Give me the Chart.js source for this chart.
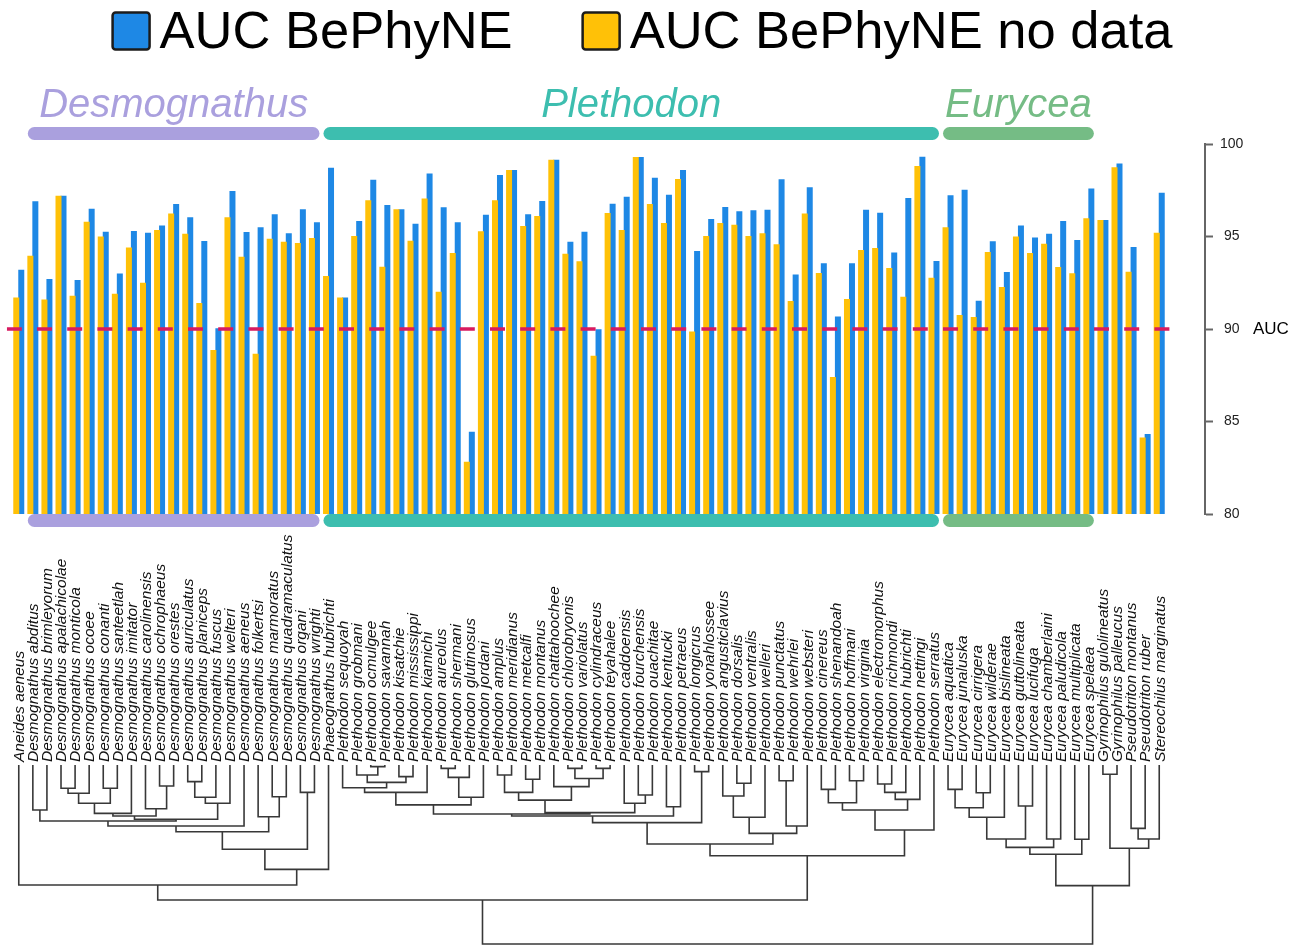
<!DOCTYPE html>
<html>
<head>
<meta charset="utf-8">
<title>AUC BePhyNE by species</title>
<script src="https://cdn.jsdelivr.net/npm/chart.js@4.4.1/dist/chart.umd.min.js"></script>
<style>
  html, body { margin: 0; padding: 0; background: #fff; }
  #wrap { position: relative; width: 1309px; height: 947px; overflow: hidden; }
  #wrap canvas { position: absolute; left: 0; top: 0; }
</style>
</head>
<body>
<div id="wrap">
  <canvas id="auc" width="1309" height="947"></canvas>
  <canvas id="tree" width="1309" height="947"></canvas>
</div>
<script>
// ---- data -------------------------------------------------------------
const species = [
  'Aneides aeneus', 'Desmognathus abditus', 'Desmognathus brimleyorum', 'Desmognathus apalachicolae',
  'Desmognathus monticola', 'Desmognathus ocoee', 'Desmognathus conanti', 'Desmognathus santeetlah',
  'Desmognathus imitator', 'Desmognathus carolinensis', 'Desmognathus ochrophaeus', 'Desmognathus orestes',
  'Desmognathus auriculatus', 'Desmognathus planiceps', 'Desmognathus fuscus', 'Desmognathus welteri',
  'Desmognathus aeneus', 'Desmognathus folkertsi', 'Desmognathus marmoratus', 'Desmognathus quadramaculatus',
  'Desmognathus organi', 'Desmognathus wrighti', 'Phaeognathus hubrichti', 'Plethodon sequoyah',
  'Plethodon grobmani', 'Plethodon ocmulgee', 'Plethodon savannah', 'Plethodon kisatchie',
  'Plethodon mississippi', 'Plethodon kiamichi', 'Plethodon aureolus', 'Plethodon shermani',
  'Plethodon glutinosus', 'Plethodon jordani', 'Plethodon amplus', 'Plethodon meridianus',
  'Plethodon metcalfi', 'Plethodon montanus', 'Plethodon chattahoochee', 'Plethodon chlorobryonis',
  'Plethodon variolatus', 'Plethodon cylindraceus', 'Plethodon teyahalee', 'Plethodon caddoensis',
  'Plethodon fourchensis', 'Plethodon ouachitae', 'Plethodon kentucki', 'Plethodon petraeus',
  'Plethodon longicrus', 'Plethodon yonahlossee', 'Plethodon angusticlavius', 'Plethodon dorsalis',
  'Plethodon ventralis', 'Plethodon welleri', 'Plethodon punctatus', 'Plethodon wehrlei',
  'Plethodon websteri', 'Plethodon cinereus', 'Plethodon shenandoah', 'Plethodon hoffmani',
  'Plethodon virginia', 'Plethodon electromorphus', 'Plethodon richmondi', 'Plethodon hubrichti',
  'Plethodon nettingi', 'Plethodon serratus', 'Eurycea aquatica', 'Eurycea junaluska',
  'Eurycea cirrigera', 'Eurycea wilderae', 'Eurycea bislineata', 'Eurycea guttolineata',
  'Eurycea lucifuga', 'Eurycea chamberlaini', 'Eurycea paludicola', 'Eurycea multiplicata',
  'Eurycea spelaea', 'Gyrinophilus gulolineatus', 'Gyrinophilus palleucus', 'Pseudotriton montanus',
  'Pseudotriton ruber', 'Stereochilus marginatus'
];

// AUC of the full BePhyNE model (blue)
const aucBePhyNE = [
  93.20, 96.90, 92.70, 97.20, 92.65, 96.50, 95.26, 93.00, 95.30, 95.20,
  95.60, 96.76, 96.04, 94.76, 90.04, 97.46, 95.25, 95.50, 96.20, 95.17,
  96.47, 95.77, 98.72, 91.70, 95.84, 98.07, 96.70, 96.47, 95.69, 98.40,
  96.58, 95.77, 84.45, 96.18, 98.32, 98.59, 96.20, 96.92, 99.15, 94.72,
  95.26, 89.98, 96.77, 97.15, 99.30, 98.18, 97.26, 98.59, 94.22, 95.95,
  96.59, 96.36, 96.42, 96.44, 98.09, 92.95, 97.66, 93.55, 90.67, 93.56,
  96.44, 96.29, 94.13, 97.08, 99.31, 93.68, 97.23, 97.53, 91.53, 94.74,
  93.08, 95.59, 94.94, 95.15, 95.84, 94.81, 97.60, 95.89, 98.94, 94.43,
  84.32, 97.37
];

// AUC of BePhyNE fitted without the species' own occurrence data (orange)
const aucNoData = [
  91.70, 93.96, 91.60, 97.20, 91.80, 95.80, 95.00, 91.90, 94.40, 92.50,
  95.35, 96.25, 95.15, 91.40, 88.86, 96.04, 93.90, 88.66, 94.88, 94.72,
  94.65, 94.92, 92.86, 91.70, 95.03, 96.96, 93.37, 96.47, 94.77, 97.06,
  92.02, 94.11, 82.83, 95.28, 96.96, 98.59, 95.57, 96.11, 99.15, 94.07,
  93.66, 88.56, 96.27, 95.35, 99.30, 96.76, 95.73, 98.11, 89.87, 95.03,
  95.73, 95.64, 95.03, 95.17, 94.58, 91.51, 96.24, 93.03, 87.41, 91.62,
  94.27, 94.38, 93.30, 91.75, 98.81, 92.77, 95.50, 90.76, 90.65, 94.16,
  92.27, 95.00, 94.11, 94.61, 93.35, 93.01, 95.98, 95.89, 98.74, 93.10,
  84.14, 95.20
];

const yTickValues = [80, 85, 90, 95, 100];
const referenceAUC = 90;

// genus brackets: first and last species index covered
const cladeNames = ['Desmognathus', 'Plethodon', 'Eurycea'];
const cladeFirst = [1, 22, 66];
const cladeLast = [21, 65, 76];

// phylogeny: [node id, left child, right child, relative age]; numbers are species indices
const treeNodes = [
  ['d1', 1, 2, 25.1], ['d2', 3, 4, 13.0], ['d3', 'd2', 5, 15.8], ['d4', 6, 7, 13.0],
  ['d5', 'd3', 'd4', 21.4], ['d6', 'd5', 8, 27.0], ['d7', 10, 11, 11.7], ['d8', 9, 'd7', 24.4],
  ['d9', 'd6', 'd8', 28.5], ['d10', 12, 13, 9.3], ['d11', 'd10', 14, 18.0], ['d12', 'd11', 15, 21.4],
  ['d13', 'd9', 'd12', 30.3], ['d14', 'd1', 'd13', 31.3], ['d15', 'd14', 16, 34.1], ['d16', 18, 19, 17.7],
  ['d17', 17, 'd16', 28.9], ['d18', 'd15', 'd17', 37.3], ['d19', 20, 21, 15.3], ['d20', 'd18', 'd19', 47.1],
  ['d21', 'd20', 22, 58.3], ['d22', 0, 'd21', 67.0],
  ['p1', 25, 26, 0.9], ['p2', 24, 'p1', 5.6], ['p3', 27, 28, 6.5], ['p4', 'p2', 'p3', 9.7],
  ['p5', 23, 'p4', 12.7], ['p6', 'p5', 29, 15.3], ['p7', 30, 31, 1.9], ['p8', 'p7', 32, 6.9],
  ['p9', 'p8', 33, 18.0], ['p10', 'p6', 'p9', 22.3], ['p11', 34, 35, 5.6], ['p12', 36, 37, 8.0],
  ['p13', 'p11', 'p12', 15.3], ['p14', 39, 40, 1.9], ['p15', 41, 42, 1.9], ['p16', 'p14', 'p15', 7.5],
  ['p17', 38, 'p16', 12.1], ['p18', 'p13', 'p17', 19.6], ['p19', 44, 45, 16.8], ['p20', 43, 'p19', 21.4],
  ['p21', 'p18', 'p20', 26.6], ['p22', 'p10', 'p21', 27.4], ['p23', 46, 47, 23.3], ['p24', 'p22', 'p23', 28.5],
  ['p25', 48, 49, 3.7], ['p26', 'p24', 'p25', 32.2], ['p27', 51, 52, 10.2], ['p28', 50, 'p27', 17.3],
  ['p29', 'p28', 53, 29.2], ['p30', 54, 55, 8.8], ['p31', 'p30', 56, 34.1], ['p32', 'p29', 'p31', 38.2],
  ['p33', 'p26', 'p32', 44.1], ['p34', 57, 58, 13.6], ['p35', 59, 60, 8.8], ['p36', 'p34', 'p35', 21.1],
  ['p37', 61, 62, 10.6], ['p38', 'p37', 63, 15.3], ['p39', 'p38', 64, 19.2], ['p40', 'p36', 'p39', 25.1],
  ['p41', 'p40', 65, 36.3], ['p42', 'p33', 'p41', 50.7], ['a1', 'd22', 'p42', 75.4],
  ['e1', 66, 67, 13.6], ['e2', 68, 69, 15.5], ['e3', 'e1', 'e2', 23.9], ['e4', 'e3', 70, 29.2],
  ['e5', 71, 72, 22.9], ['e6', 'e4', 'e5', 41.3], ['e7', 73, 74, 41.3], ['e8', 'e6', 'e7', 46.0],
  ['e9', 75, 76, 41.5], ['e10', 'e8', 'e9', 49.9], ['g1', 77, 78, 5.2], ['g2', 79, 80, 35.4],
  ['g3', 'g2', 81, 41.3], ['g4', 'g1', 'g3', 46.5], ['s1', 'e10', 'g4', 67.4], ['root', 'a1', 's1', 100]
];

// ---- styling ----------------------------------------------------------
const BLUE = '#1E88E5';
const ORANGE = '#FFC107';
const THRESHOLD = '#D81B60';
const cladeColors = ['#AAA0DE', '#3DBEAF', '#75BC85'];
const SANS = '"Liberation Sans", Arial, Helvetica, sans-serif';

// shared horizontal frame so bars, labels and tree tips line up
const X_MIN = -0.85;
const X_MAX = 84.25;
const PAD_LEFT = 6.8;
const AXIS_WIDTH = 104;

// ---- plugins ----------------------------------------------------------
const topLegend = {
  id: 'topLegend',
  afterDraw(chart) {
    const ctx = chart.ctx;
    const items = [chart.data.datasets[1], chart.data.datasets[0]];
    const box = 37, gap = 10, between = 70;
    ctx.save();
    ctx.font = '52.5px ' + SANS;
    const widths = items.map(d => ctx.measureText(d.label).width);
    const total = widths.reduce((s, w) => s + box + gap + w, 0) + between * (items.length - 1);
    let x = 642.5 - total / 2;
    items.forEach((d, i) => {
      ctx.fillStyle = d.backgroundColor;
      ctx.strokeStyle = '#1b1b1b';
      ctx.lineWidth = 2.5;
      ctx.beginPath();
      ctx.roundRect(x, 12.5, box, 37, 3);
      ctx.fill();
      ctx.stroke();
      x += box + gap;
      ctx.fillStyle = '#000';
      ctx.textAlign = 'left';
      ctx.textBaseline = 'alphabetic';
      ctx.fillText(d.label, x, 48);
      x += widths[i] + between;
    });
    ctx.restore();
  }
};

const cladeBrackets = {
  id: 'cladeBrackets',
  afterDraw(chart) {
    const { ctx, chartArea, scales: { x } } = chart;
    ctx.save();
    cladeNames.forEach((name, k) => {
      const x0 = x.getPixelForValue(cladeFirst[k] - 0.5) + 2;
      const x1 = x.getPixelForValue(cladeLast[k] + 0.5) - 2;
      ctx.strokeStyle = cladeColors[k];
      ctx.lineWidth = 13;
      ctx.lineCap = 'round';
      [chartArea.top - 10.5, chartArea.bottom + 6.5].forEach(y => {
        ctx.beginPath();
        ctx.moveTo(x0 + 6.5, y);
        ctx.lineTo(x1 - 6.5, y);
        ctx.stroke();
      });
      ctx.fillStyle = cladeColors[k];
      ctx.font = 'italic 40px ' + SANS;
      ctx.textAlign = 'center';
      ctx.textBaseline = 'alphabetic';
      ctx.fillText(name, (x0 + x1) / 2, chartArea.top - 27);
    });
    ctx.restore();
  }
};

const axisName = {
  id: 'axisName',
  afterDraw(chart) {
    const { ctx, scales: { y } } = chart;
    ctx.save();
    ctx.font = '17px ' + SANS;
    ctx.fillStyle = '#000';
    ctx.textAlign = 'left';
    ctx.textBaseline = 'middle';
    ctx.fillText('AUC', 1253, y.getPixelForValue(referenceAUC));
    ctx.restore();
  }
};

const tipLabels = {
  id: 'tipLabels',
  afterDraw(chart) {
    const { ctx, chartArea, scales: { x } } = chart;
    ctx.save();
    ctx.font = 'italic 15.5px ' + SANS;
    ctx.fillStyle = '#111';
    ctx.textAlign = 'left';
    ctx.textBaseline = 'middle';
    species.forEach((name, i) => {
      ctx.save();
      ctx.translate(x.getPixelForValue(i) + 1, chartArea.top - 3);
      ctx.rotate(-Math.PI / 2);
      ctx.fillText(name, 0, 0);
      ctx.restore();
    });
    ctx.restore();
  }
};

// ---- AUC bar chart ----------------------------------------------------
const toPoints = arr => arr.map((v, i) => ({ x: i, y: v }));

new Chart(document.getElementById('auc'), {
  type: 'bar',
  data: {
    datasets: [
      {
        label: 'AUC BePhyNE no data',
        data: toPoints(aucNoData),
        backgroundColor: ORANGE,
        categoryPercentage: 0.71,
        barPercentage: 1.2
      },
      {
        label: 'AUC BePhyNE',
        data: toPoints(aucBePhyNE),
        backgroundColor: BLUE,
        categoryPercentage: 0.71,
        barPercentage: 1.2
      },
      {
        type: 'line',
        label: 'AUC = 90',
        data: [{ x: X_MIN, y: referenceAUC }, { x: species.length - 0.17, y: referenceAUC }],
        borderColor: THRESHOLD,
        borderWidth: 3.5,
        borderDash: [15, 15.2],
        pointRadius: 0,
        order: -1
      }
    ]
  },
  options: {
    responsive: false,
    animation: false,
    devicePixelRatio: 1,
    layout: { padding: { top: 144, bottom: 433, left: PAD_LEFT, right: 0 } },
    plugins: { legend: { display: false }, tooltip: { enabled: false } },
    scales: {
      x: { type: 'linear', min: X_MIN, max: X_MAX, offset: false, display: false },
      y: {
        position: 'right',
        min: 80,
        max: 100,
        afterBuildTicks(s) { s.ticks = yTickValues.map(v => ({ value: v })); },
        afterFit(s) { s.width = AXIS_WIDTH; },
        ticks: {
          font: { family: SANS, size: 14 },
          color: '#222',
          padding: 7,
          crossAlign: 'center'
        },
        grid: { drawOnChartArea: false, tickLength: 8, tickWidth: 2, tickColor: '#666' },
        border: { display: true, color: '#666', width: 2 }
      }
    }
  },
  plugins: [topLegend, cladeBrackets, axisName]
});

// ---- phylogeny ---------------------------------------------------------
const nodePos = {};
const treeSegments = [];
const place = c => (typeof c === 'number' ? { x: c, age: 0 } : nodePos[c]);
treeNodes.forEach(([id, left, right, age]) => {
  const a = place(left);
  const b = place(right);
  nodePos[id] = { x: (a.x + b.x) / 2, age };
  treeSegments.push(
    { x: a.x, y: a.age }, { x: a.x, y: age },
    { x: b.x, y: age }, { x: b.x, y: b.age },
    { x: b.x, y: null }
  );
});

new Chart(document.getElementById('tree'), {
  type: 'line',
  data: {
    datasets: [{
      label: 'phylogeny',
      data: treeSegments,
      borderColor: '#383838',
      borderWidth: 1.6,
      pointRadius: 0,
      spanGaps: false,
      tension: 0,
      clip: 4
    }]
  },
  options: {
    responsive: false,
    animation: false,
    devicePixelRatio: 1,
    layout: { padding: { top: 765, bottom: 3, left: PAD_LEFT, right: AXIS_WIDTH } },
    plugins: { legend: { display: false }, tooltip: { enabled: false } },
    scales: {
      x: { type: 'linear', min: X_MIN, max: X_MAX, offset: false, display: false },
      y: { type: 'linear', min: 0, max: 100, reverse: true, display: false }
    }
  },
  plugins: [tipLabels]
});
</script>
</body>
</html>
